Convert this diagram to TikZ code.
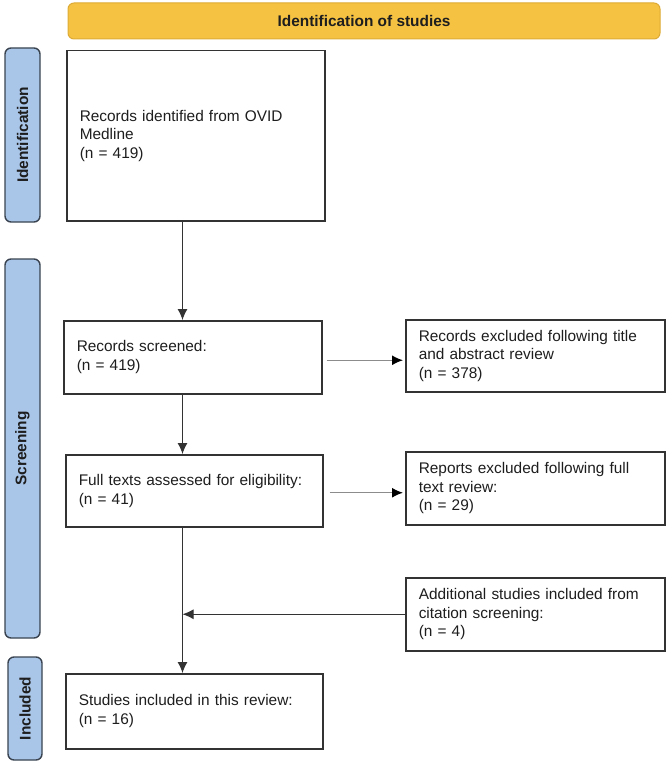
\documentclass[tikz,border=0pt]{standalone}
\usepackage{fontspec}
\setmainfont{Liberation Sans}
\usetikzlibrary{arrows.meta}
\definecolor{hdrfill}{HTML}{F5C242}
\definecolor{hdrline}{HTML}{DDAA36}
\definecolor{sidefill}{HTML}{A9C5E8}
\definecolor{sideline}{HTML}{3A4350}
\definecolor{boxline}{HTML}{333333}
\definecolor{txt}{HTML}{1E1E1E}
\begin{document}
\begin{tikzpicture}[x=1pt,y=-1pt,
  font=\fontsize{15.4}{18.6}\selectfont,
  every node/.style={text=txt},
  box/.style={draw=boxline, line width=1.5pt, fill=white, anchor=north west,
    inner xsep=13pt, inner ysep=0pt, align=left},
  hdr/.style={draw=hdrline, line width=1pt, fill=hdrfill, rounded corners=6pt,
    font=\fontsize{15.4}{18.6}\selectfont\bfseries},
  side/.style={draw=sideline, line width=1.4pt, fill=sidefill, rounded corners=6pt,
    rotate=90, font=\fontsize{15.4}{18.6}\selectfont\bfseries, inner sep=0pt},
  arr/.style={draw=black!80, line width=1pt, -{Latex[length=11pt,width=10pt]}},
  harr/.style={draw=black!45, line width=1.4pt, -{Latex[length=11pt,width=10pt,fill=black,color=black]}}
]
\useasboundingbox (0,0) rectangle (666,765);

\node[hdr, minimum width=592, minimum height=36] (hdr) at (364,21) {Identification of studies};

\node[side, minimum width=174, minimum height=35] (s1) at (22.5,135) {Identification};
\node[side, minimum width=379, minimum height=35] (s2) at (22.5,448.5) {Screening};
\node[side, minimum width=103, minimum height=34] (s3) at (25,708.5) {Included};

\node[box, text width=232, minimum height=170] (b1) at (66,50)
  {Records identified from OVID\\Medline\\(n = 419)};
\node[box, text width=232, minimum height=73] (b2) at (63,320)
  {Records screened:\\(n = 419)};
\node[box, text width=231, minimum height=72] (b3) at (65,454)
  {Full texts assessed for eligibility:\\(n = 41)};
\node[box, text width=231, minimum height=75] (b4) at (65,673)
  {Studies included in this review:\\(n = 16)};

\node[box, text width=233, minimum height=72] (r1) at (405,319)
  {Records excluded following title\\and abstract review\\(n = 378)};
\node[box, text width=233, minimum height=73] (r2) at (405,451)
  {Reports excluded following full\\text review:\\(n = 29)};
\node[box, text width=233, minimum height=73] (r3) at (405,577)
  {Additional studies included from\\citation screening:\\(n = 4)};

\coordinate (col) at (182.5,0);
\draw[arr] (b1.south -| col) -- (b2.north -| col);
\draw[arr] (b2.south -| col) -- (b3.north -| col);
\draw[arr] (b3.south -| col) -- (b4.north -| col);
\draw[arr] (r3.west) -- (r3.west -| col);
\draw[harr, shorten <=4pt, shorten >=2pt] ([yshift=-3]b2.east) -- ([yshift=-3]b2.east -| r1.west);
\draw[harr, shorten <=6pt, shorten >=2pt] ([yshift=-2]b3.east) -- ([yshift=-2]b3.east -| r2.west);
\end{tikzpicture}
\end{document}
